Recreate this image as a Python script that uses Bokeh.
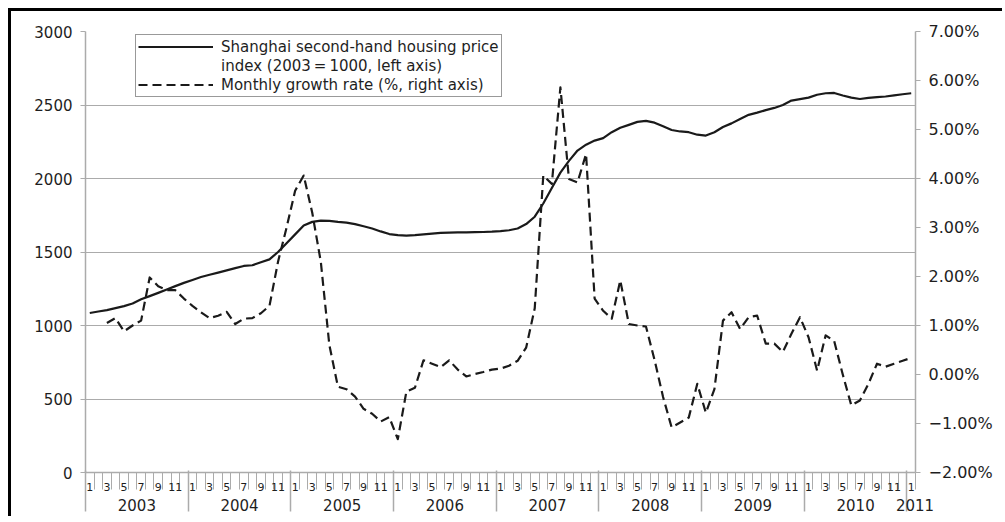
import math
from bokeh.plotting import figure
from bokeh.models import (Range1d, LinearAxis, FixedTicker, Grid, Legend,
                          LegendItem, ColumnDataSource)
from bokeh.embed import file_html
from bokeh.resources import INLINE

# ---------------- data ----------------
# Shanghai second-hand housing price index, Jan 2003 .. Jan 2011 (2003 = 1000)
index_values = [
    1085, 1095, 1105, 1118, 1132, 1150, 1178, 1200, 1222, 1245, 1268, 1290,
    1310, 1330, 1345, 1360, 1375, 1390, 1405, 1410, 1430, 1450, 1500, 1560,
    1620, 1680, 1705, 1714, 1712, 1705, 1700, 1690, 1675, 1660, 1640, 1622,
    1615, 1612, 1615, 1620, 1625, 1630, 1632, 1633, 1633, 1635, 1636, 1638,
    1642, 1648, 1660, 1690, 1740, 1830, 1935, 2040, 2120, 2190, 2230, 2258,
    2275, 2315, 2345, 2365, 2385, 2392, 2380, 2355, 2330, 2320, 2315, 2298,
    2292, 2315, 2350, 2375, 2405, 2433, 2448, 2465, 2480, 2500, 2530, 2540,
    2550, 2570, 2580, 2582, 2565, 2550, 2541, 2548, 2553, 2558, 2565, 2573,
    2580,
]
# Monthly growth rate (%), same months
growth_rate = [
    float("nan"), float("nan"), 1.05, 1.15, 0.88, 1.00, 1.10, 1.98, 1.80, 1.72, 1.72, 1.55,
    1.40, 1.27, 1.15, 1.20, 1.28, 1.03, 1.14, 1.15, 1.25, 1.40, 2.30, 3.00,
    3.75, 4.06, 3.30, 2.30, 0.60, -0.25, -0.30, -0.45, -0.70, -0.80, -0.96, -0.87,
    -1.32, -0.35, -0.27, 0.29, 0.22, 0.15, 0.29, 0.10, -0.04, 0.01, 0.05, 0.10,
    0.12, 0.18, 0.28, 0.55, 1.35, 4.06, 3.89, 5.86, 3.99, 3.92, 4.50, 1.55,
    1.30, 1.14, 1.92, 1.03, 1.00, 0.98, 0.30, -0.46, -1.08, -0.98, -0.88, -0.19,
    -0.78, -0.30, 1.10, 1.27, 0.93, 1.17, 1.20, 0.63, 0.63, 0.46, 0.83, 1.17,
    0.76, 0.08, 0.80, 0.68, 0.00, -0.63, -0.53, -0.19, 0.22, 0.16, 0.22, 0.28,
    0.34,
]
month_numbers = [m for _ in range(8) for m in range(1, 13)] + [1]
year_labels = ["2003", "2004", "2005", "2006", "2007", "2008", "2009", "2010", "2011"]
left_ticks = [0, 500, 1000, 1500, 2000, 2500, 3000]
right_ticks = [-2, -1, 0, 1, 2, 3, 4, 5, 6, 7]
right_labels = ["\u22122.00%", "\u22121.00%", "0.00%", "1.00%", "2.00%", "3.00%",
                "4.00%", "5.00%", "6.00%", "7.00%"]
legend_lines = ["Shanghai second-hand housing price",
                "index (2003\u2009=\u20091000, left axis)",
                "Monthly growth rate (%, right axis)"]

# ---------------- style ----------------
FONT = "DejaVu Sans"
GRAY = "#ababab"
TXT = "#1e1e1e"
INK = "#1a1a1a"

n = len(index_values)
xs = [i + 0.5 for i in range(n)]
src = ColumnDataSource(dict(x=xs, idx=index_values, rate=growth_rate))

p = figure(width=994, height=508, output_backend="svg", toolbar_location=None,
           x_range=Range1d(0, n), y_range=Range1d(0, 3000),
           x_axis_type=None, y_axis_type=None,
           min_border_left=74, min_border_right=90, min_border_top=20, min_border_bottom=47,
           outline_line_color=None, background_fill_color="white", border_fill_color="white")
p.styles = {"margin-left": "8px", "margin-top": "8px",
            "border-left": "3px solid #000", "border-top": "3px solid #000"}
p.extra_y_ranges = {"rate": Range1d(-2, 7)}

# grid
p.add_layout(Grid(dimension=1, ticker=FixedTicker(ticks=left_ticks),
                  grid_line_color=GRAY, grid_line_width=1.2))

# left axis
left_axis = LinearAxis(ticker=FixedTicker(ticks=left_ticks),
                       axis_line_color=GRAY, axis_line_width=1.5,
                       major_tick_line_color=GRAY, major_tick_out=5, major_tick_in=0,
                       minor_tick_line_color=None, major_label_standoff=8,
                       major_label_text_font=FONT, major_label_text_font_size="15px",
                       major_label_text_color=TXT)
p.add_layout(left_axis, "left")

# right axis
right_axis = LinearAxis(y_range_name="rate", ticker=FixedTicker(ticks=right_ticks),
                        major_label_overrides={v: s for v, s in zip(right_ticks, right_labels)},
                        axis_line_color=GRAY, axis_line_width=1.5,
                        major_tick_line_color=GRAY, major_tick_out=5, major_tick_in=0,
                        minor_tick_line_color=None, major_label_standoff=8,
                        major_label_text_font=FONT, major_label_text_font_size="16px",
                        major_label_text_color=TXT)
p.add_layout(right_axis, "right")

# month axis
month_over = {xs[i]: (str(m) if m % 2 == 1 else "") for i, m in enumerate(month_numbers)}
month_axis = LinearAxis(ticker=FixedTicker(ticks=xs, minor_ticks=list(range(n + 1))),
                        major_label_overrides=month_over,
                        axis_line_color=GRAY, axis_line_width=1.5,
                        major_tick_line_color=None, major_tick_out=0, major_tick_in=0,
                        minor_tick_line_color=GRAY, minor_tick_out=17, minor_tick_in=0,
                        major_label_standoff=-7,
                        major_label_text_font=FONT, major_label_text_font_size="11px",
                        major_label_text_color=TXT)
p.add_layout(month_axis, "below")

# year axis
year_ticks = [12 * k + 6 for k in range(8)] + [n - 0.05]
year_axis = LinearAxis(ticker=FixedTicker(ticks=year_ticks,
                                          minor_ticks=[12 * k for k in range(9)]),
                       major_label_overrides={t: s for t, s in zip(year_ticks, year_labels)},
                       axis_line_color=None,
                       major_tick_line_color=None, major_tick_out=0, major_tick_in=0,
                       minor_tick_line_color=GRAY, minor_tick_in=23, minor_tick_out=18,
                       minor_tick_line_width=1.5,
                       major_label_standoff=-13,
                       major_label_text_font=FONT, major_label_text_font_size="15px",
                       major_label_text_color=TXT)
p.add_layout(year_axis, "below")

# series
r1 = p.line("x", "idx", source=src, line_color=INK, line_width=2.2, line_join="round")
r2 = p.line("x", "rate", source=src, y_range_name="rate", line_color=INK,
            line_width=2.2, line_dash="9 5", line_join="round")
r_blank = p.line([], [], line_alpha=0)

legend = Legend(items=[LegendItem(label=legend_lines[0], renderers=[r1]),
                       LegendItem(label=legend_lines[1], renderers=[r_blank]),
                       LegendItem(label=legend_lines[2], renderers=[r2])],
                location=(50, 375), orientation="vertical",
                glyph_width=75, glyph_height=19, label_standoff=8,
                padding=2, spacing=0, margin=0,
                label_text_font=FONT, label_text_font_size="15px",
                label_text_color=TXT, label_text_line_height=1.0,
                border_line_color="#333333", border_line_width=1.2,
                background_fill_color="white", background_fill_alpha=1.0)
p.add_layout(legend)

open("out.html", "w").write(file_html(p, INLINE))
